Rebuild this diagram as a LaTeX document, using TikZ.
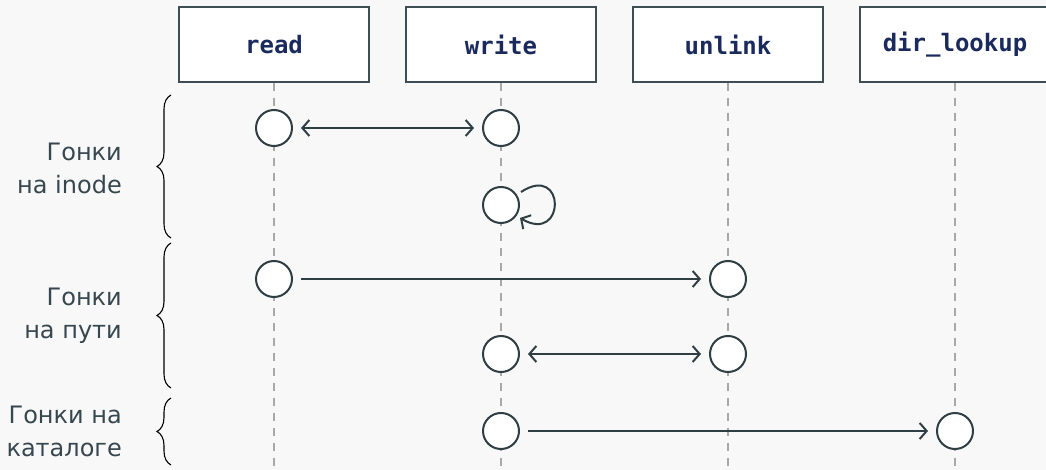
\documentclass[tikz,border=0pt]{standalone}
\usepackage{fontspec}
\setmainfont{DejaVu Sans}
\newfontfamily\monofont{DejaVu Sans Mono}
\usetikzlibrary{arrows.meta,decorations.pathreplacing,calc}
\definecolor{bgc}{HTML}{F8F8F8}
\definecolor{ink}{HTML}{2F3E43}
\definecolor{boxline}{HTML}{3F4E54}
\definecolor{headtxt}{HTML}{1A2A5C}
\definecolor{lbl}{HTML}{37474F}
\definecolor{life}{HTML}{A8A8A8}
\begin{document}
\begin{tikzpicture}[x=1pt,y=-1pt,
  header/.style={draw=boxline,line width=1.3pt,fill=white,minimum width=190pt,minimum height=75pt,
    inner sep=0pt,text=headtxt,font=\monofont\bfseries\fontsize{24}{28}\selectfont},
  lifeline/.style={draw=life,line width=1.3pt,dash pattern=on 8pt off 7pt},
  event/.style={circle,draw=ink,line width=2pt,fill=white,minimum size=36pt,inner sep=0pt},
  msg/.style={draw=ink,line width=2pt,shorten <=8pt,shorten >=8pt},
  mtip/.tip={Straight Barb[length=7pt,width=16pt]},
  grp/.style={decorate,decoration={brace,amplitude=14pt},draw=black,line width=1.1pt},
  grplabel/.style={anchor=east,align=right,inner sep=0pt,text=lbl,font=\fontsize{24}{33}\selectfont}]

% page
\fill[bgc] (0,0) rectangle (1046,470);
\useasboundingbox (0,0) rectangle (1046,470);
\coordinate (bottom) at (0,470);

% participants
\node[header] (hRead)  at (274,44.5) {read};
\node[header] (hWrite) at (501,44.5) {write};
\node[header] (hUnl)   at (728,44.5) {unlink};
\node[header] (hDir)   at (955,44.5) {dir\_lookup};

% lifelines
\foreach \h in {hRead,hWrite,hUnl,hDir}
  \draw[lifeline] (\h.south) -- (\h.south |- bottom);

% events
\node[event] (r1) at (274,128) {};
\node[event] (w1) at (501,128) {};
\node[event] (w2) at (501,205) {};
\node[event] (r3) at (274,279) {};
\node[event] (u3) at (728,279) {};
\node[event] (w4) at (501,354) {};
\node[event] (u4) at (728,354) {};
\node[event] (w5) at (501,431) {};
\node[event] (d5) at (955,431) {};

% messages
\draw[msg,mtip-mtip] (r1) -- (w1);
\draw[msg,-mtip] (r3) -- (u3);
\draw[msg,mtip-mtip] (w4) -- (u4);
\draw[msg,-mtip] (w5) -- (d5);
% self call on write
\draw[draw=ink,line width=2pt,-mtip] ($(w2)+(20,-13)$)
  .. controls ($(w2)+(65,-42.5)$) and ($(w2)+(65,39.5)$) .. ($(w2)+(19,13)$);

% groups
\draw[grp] (171,238) -- (171,95);
\draw[grp] (171,388) -- (171,243);
\draw[grp] (171,465) -- (171,398);

\node[grplabel] (g1) at (122,168) {Гонки\\на inode};
\node[grplabel] (g2) at (122,316) {Гонки\\на пути};
\node[grplabel] (g3) at (122,431) {Гонки на\\каталоге};
\end{tikzpicture}
\end{document}
